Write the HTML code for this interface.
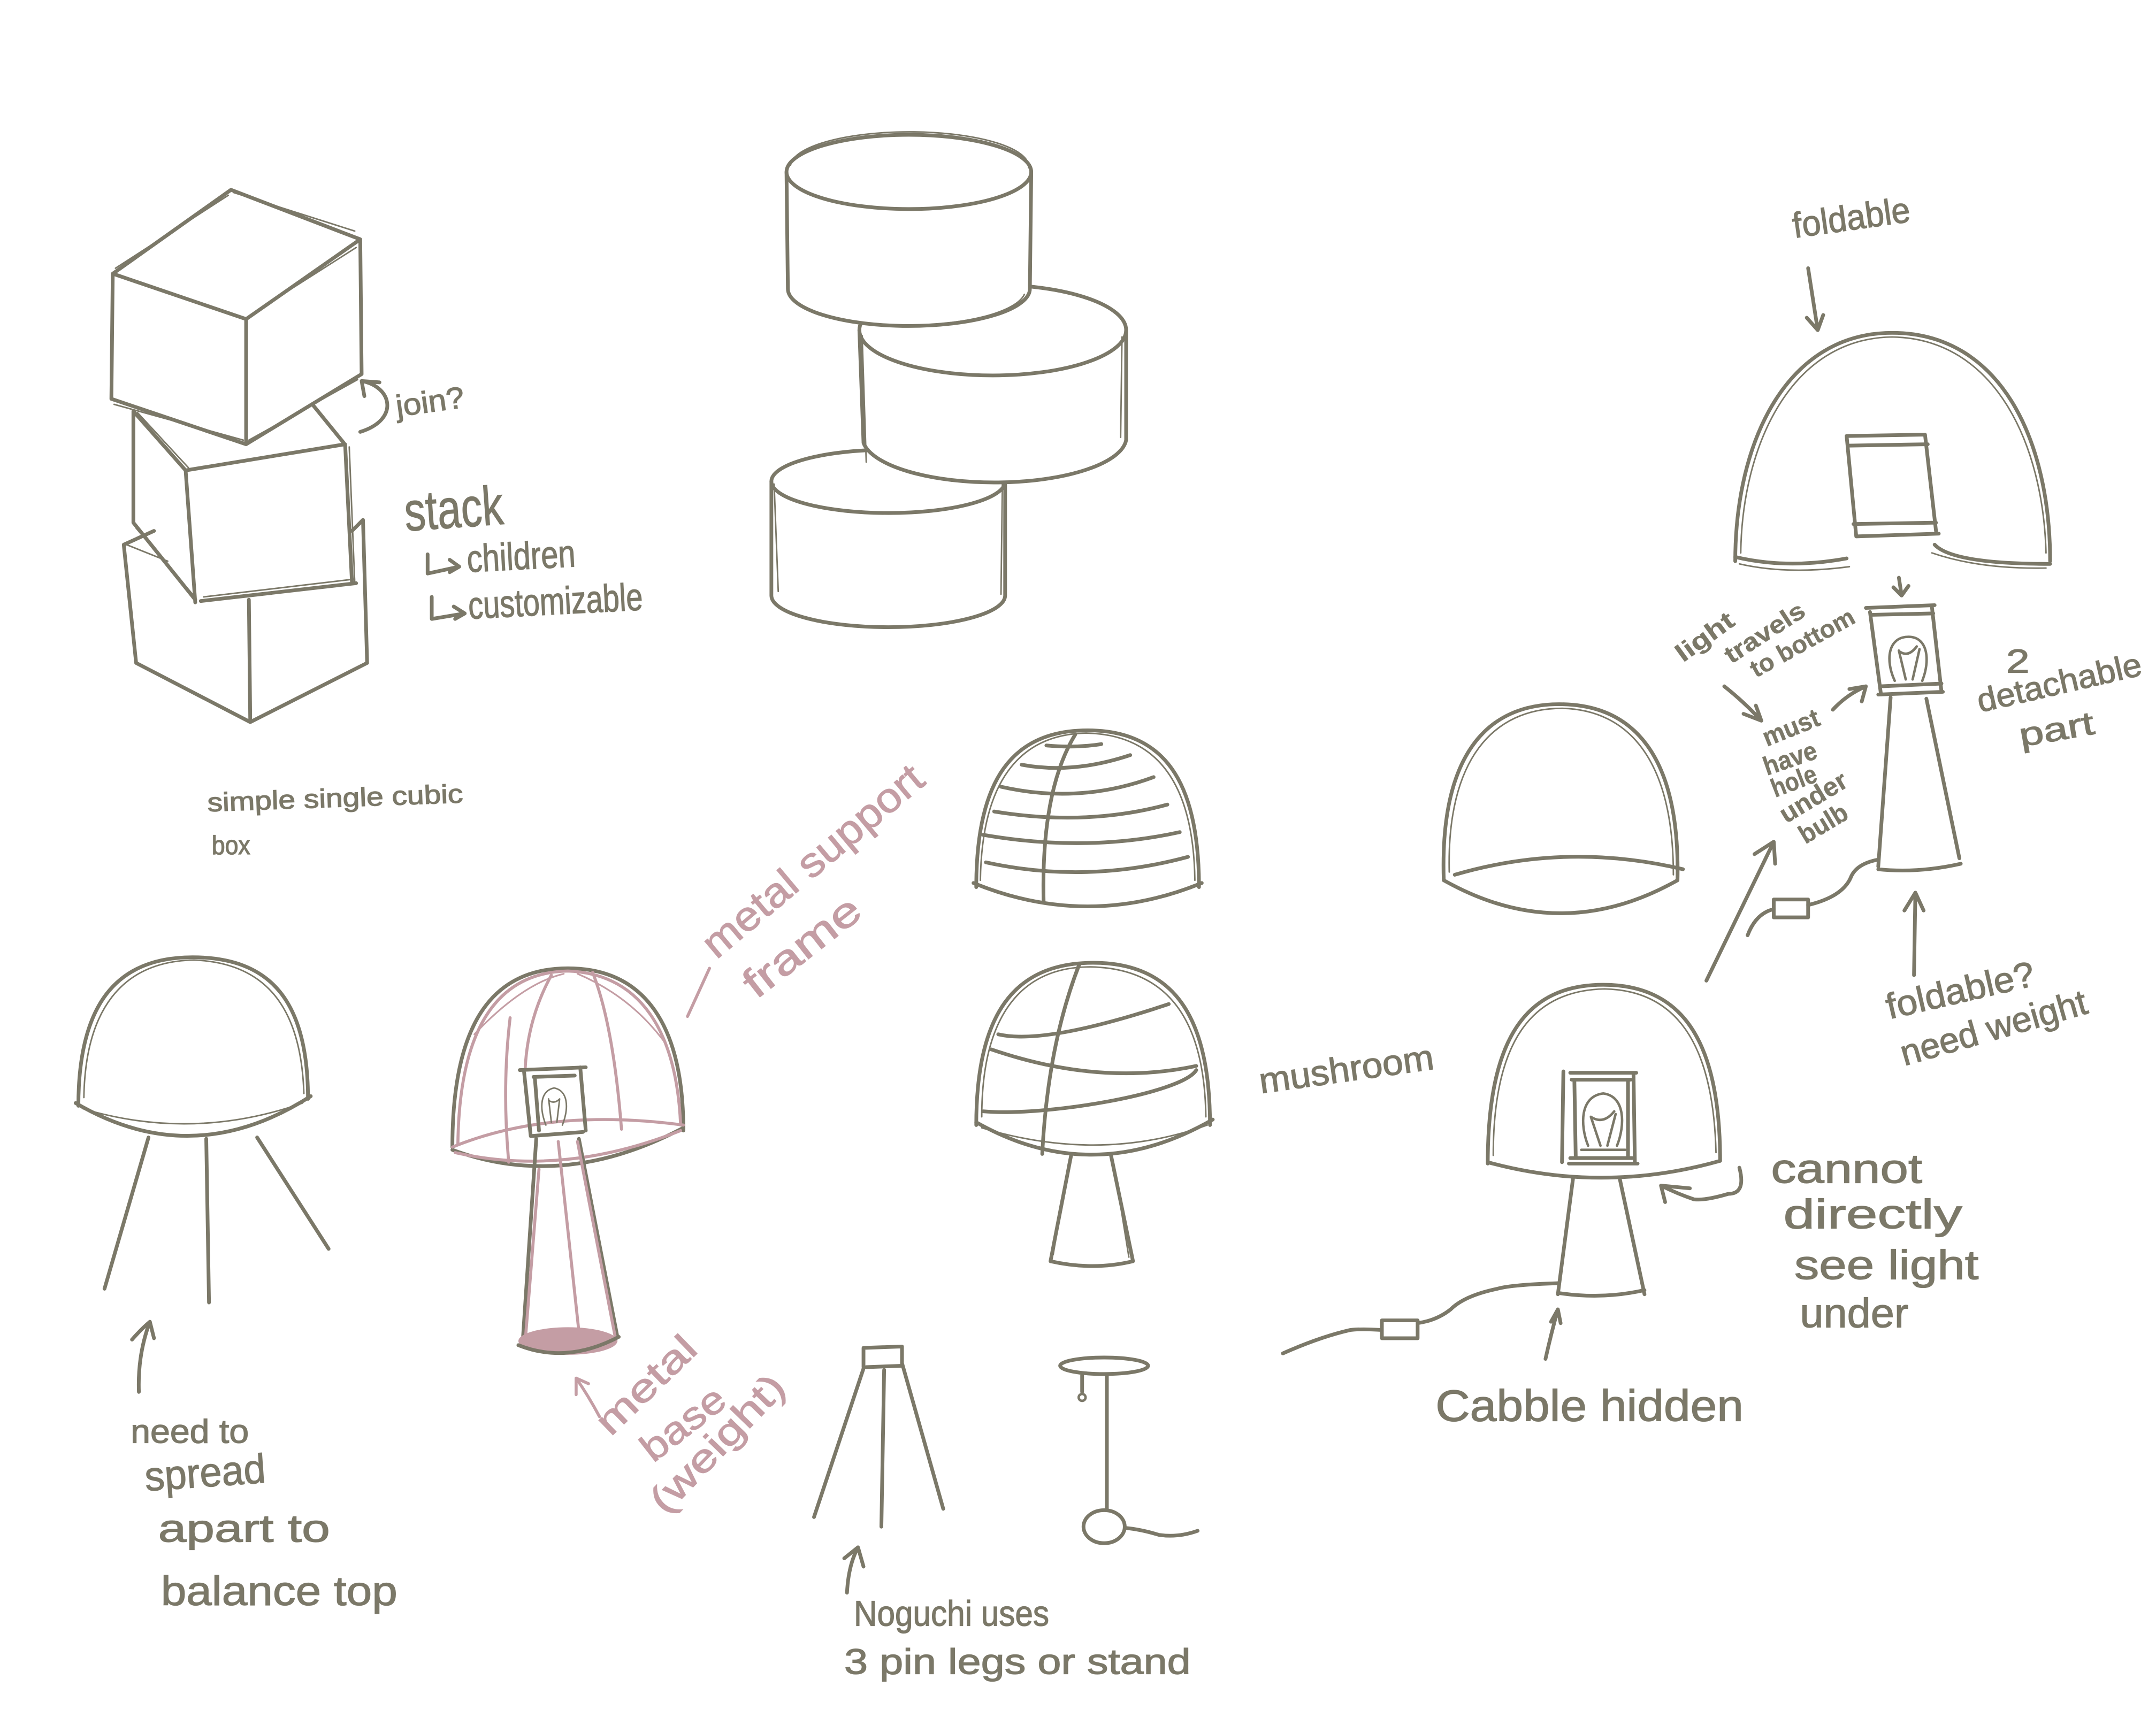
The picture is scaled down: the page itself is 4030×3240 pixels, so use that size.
<!DOCTYPE html>
<html><head><meta charset="utf-8">
<style>
html,body{margin:0;padding:0;background:#fff;}
svg{display:block;}
.s{fill:none;stroke:#7b7868;stroke-width:2.7;stroke-linecap:round;stroke-linejoin:round}
.w{fill:#fff;stroke:#7b7868;stroke-width:2.7;stroke-linecap:round;stroke-linejoin:round}
.t{fill:none;stroke:#7b7868;stroke-width:1.1;stroke-linecap:round}
.p{fill:none;stroke:#c49da4;stroke-width:2.2;stroke-linecap:round;stroke-linejoin:round}
.pt{fill:none;stroke:#c49da4;stroke-width:1.2;stroke-linecap:round}
text{font-family:"Liberation Sans","DejaVu Sans",sans-serif;fill:#7b7868;stroke:#7b7868;stroke-width:0.5}
text.pk{fill:#c49da4;stroke:#c49da4}
text.b{font-weight:bold;stroke-width:0.2}
</style></head><body>
<svg width="4030" height="3240" viewBox="0 0 1568 1260" preserveAspectRatio="none">
<rect x="0" y="0" width="1568" height="1260" fill="#fff"/>

<!-- ===== CUBES ===== -->
<path class="s" d="M90,396 L99,482 L182,525 L267,482 L264,378 M181,436 L182,525 M90,396 L112,386 M256,386 L264,378"/>
<path class="t" d="M92,396 L122,408"/>
<path class="s" d="M97,299 L97,380 M97,299 L135,342 M228,295 L250,322 M135,342 L251,323 L256,424 M135,342 L142,438 M97,380 L142,436 M146,437 L259,424"/>
<path class="t" d="M100,300 L137,340 M148,434 L258,421 M254,325 L258,424 M99,384 L140,432"/>
<path class="s" d="M82,199 L168,138 L262,174 L179,232 Z M82,199 L81,290 L179,323 L263,272 L262,174 M179,232 L179,323"/>
<path class="t" d="M84,195 L166,142 M170,140 L258,168 M182,229 L259,180 M83,294 L177,320 M181,320 L260,276"/>
<!-- join arrow -->
<path class="s" d="M263,277 C285,281 291,305 262,314 M265,288 L263,277 L276,278"/>

<!-- ===== CYLINDERS ===== -->
<path class="w" d="M561,350 L561,433 A85,23 0 0 0 731,433 L731,350 A85,23 0 0 0 561,350 Z"/>
<path class="s" d="M561,350 A85,23 0 0 0 731,350"/>
<path class="t" d="M563,352 L566,430 M729,352 L728,432"/>
<path class="w" d="M625,240 L628,322 A96,33 0 0 0 819,320 L819,240 A97,33 0 0 0 625,240 Z"/>
<path class="s" d="M625,240 A97,33 0 0 0 819,240"/>
<path class="t" d="M627,244 L630,336 M816,245 L815,318"/>
<path class="w" d="M572,125 L573,210 A88,27 0 0 0 749,210 L750,125 A89,27 0 0 0 572,125 Z"/>
<path class="s" d="M572,125 A89,27 0 0 0 750,125"/>
<path class="t" d="M575,120 A86,25 0 0 1 748,122 M574,212 A86,26 0 0 0 745,214"/>

<!-- ===== STRIPED DOME ===== -->
<path class="s" d="M710,645 C710,567 736,531 791,531 C846,531 872,567 872,645"/>
<path class="t" d="M713,640 C714,570 740,534 790,533 C842,534 868,570 869,640"/>
<path class="s" d="M708,642 Q791,676 874,642"/>
<path class="s" d="M761,542 Q782,544 801,541 M743,556 Q780,563 822,549 M728,572 Q785,585 839,565 M723,590 Q790,601 849,585 M715,607 Q790,620 858,605 M717,627 Q790,643 864,623"/>
<path class="s" d="M782,534 Q757,575 759,656"/>

<!-- ===== MUSHROOM (banded) ===== -->
<path class="s" d="M710,818 C710,738 737,700 795,700 C853,700 880,738 880,818"/>
<path class="t" d="M714,812 C714,742 740,703 793,703 C850,704 876,742 877,812"/>
<path class="s" d="M710,816 Q795,864 882,814"/>
<path class="t" d="M714,820 Q800,846 878,818"/>
<path class="s" d="M785,701 Q762,760 758,839"/>
<path class="s" d="M726,752 Q760,760 850,730 M721,763 Q800,790 870,775 M870,778 C860,795 760,812 715,808"/>
<path class="s" d="M779,840 L764,917 Q795,924 824,917 L808,840"/>
<path class="t" d="M777,846 L766,912 M810,846 L821,914"/>

<!-- ===== LEFT LEGGED DOME ===== -->
<path class="s" d="M57,804 C57,731 84,696 140,696 C197,696 224,728 224,799"/>
<path class="t" d="M61,798 C62,735 88,699 141,698 C193,700 219,732 221,795"/>
<path class="s" d="M55,802 Q140,852 226,797"/>
<path class="t" d="M60,806 Q140,830 220,802"/>
<path class="s" d="M108,827 L76,937 M150,828 L152,947 M187,827 L239,908"/>
<path class="s" d="M101,1012 Q100,985 109,961 M96,974 Q103,966 109,961 L112,973"/>

<!-- ===== PINK LAMP ===== -->
<path class="s" d="M329,834 C329,747 356,704 413,704 C470,704 497,747 497,822"/>
<path class="s" d="M329,836 Q410,866 497,820"/>
<path class="p" d="M333,832 C334,750 360,707 413,706 C466,708 492,750 495,818"/>
<path class="p" d="M329,834 Q400,805 497,818 M331,838 Q410,856 495,822"/>
<path class="p" d="M371,740 Q365,790 370,845 M431,707 Q446,745 452,821 M401,709 Q384,740 382,776"/>
<path class="pt" d="M345,752 Q380,715 410,708 M420,708 Q460,725 485,760"/>
<path class="s" d="M378,778 L426,776 M381,778 L386,826 M422,776 L426,822 M386,826 L424,823 M388,783 L418,782 M389,784 L392,822"/>
<path class="t" d="M397,818 C392,805 393,793 403,791 C413,793 414,805 409,818 M399,799 L401,816 M407,799 L405,816 M399,800 Q403,803 407,799"/>
<path class="s" d="M390,828 L380,978 M421,828 L449,972"/>
<path class="p" d="M392,850 L382,975 M406,830 L421,968 M420,830 L448,975"/>
<ellipse cx="413" cy="975" rx="36" ry="10" fill="#c49da4" stroke="none"/>
<path class="s" d="M377,978 Q412,992 450,972"/>
<path class="p" d="M500,739 L516,704"/>
<path class="p" d="M436,1030 Q428,1015 419,1002 M419,1014 L419,1002 L428,1006"/>

<!-- ===== NOGUCHI ===== -->
<path class="s" d="M628,980 L656,979 L656,993 L630,994 M628,980 L628,994"/>
<path class="s" d="M628,995 L592,1103 M643,996 L641,1110 M656,991 L686,1097"/>
<path class="s" d="M616,1158 Q617,1138 624,1125 M614,1133 L624,1125 L628,1139"/>
<ellipse class="s" cx="803" cy="993" rx="32" ry="6"/>
<path class="s" d="M805,1000 L805,1097 M787,1000 L787,1012"/>
<circle class="s" cx="787" cy="1016" r="2.5" style="stroke-width:1.8"/>
<ellipse class="s" cx="803" cy="1110" rx="15" ry="12"/>
<path class="s" d="M819,1111 Q830,1112 843,1116 Q857,1118 871,1113"/>

<!-- ===== RIGHT MIDDLE EMPTY DOME ===== -->
<path class="s" d="M1050,640 C1047,548 1082,512 1134,512 C1187,512 1222,548 1220,640"/>
<path class="t" d="M1054,634 C1052,552 1086,515 1136,515 C1184,516 1217,552 1217,636"/>
<path class="s" d="M1050,640 Q1135,688 1220,640"/>
<path class="s" d="M1058,636 Q1140,612 1224,632"/>

<!-- ===== LOWER BULB LAMP ===== -->
<path class="s" d="M1082,846 C1082,753 1111,716 1166,716 C1221,716 1251,753 1251,844"/>
<path class="t" d="M1086,840 C1086,757 1114,720 1167,719 C1218,720 1246,757 1248,838"/>
<path class="s" d="M1082,845 Q1166,868 1251,844"/>
<path class="s" d="M1137,779 L1136,845 M1142,780 L1190,780 M1188,780 L1189,846 M1143,785 L1186,785 M1145,786 L1146,842 M1184,786 L1184,842 M1142,842 L1187,842 M1141,846 L1191,846"/>
<path class="s" style="stroke-width:1.8" d="M1155,833 C1149,818 1149,797 1166,795 C1182,797 1182,818 1176,833 M1157,812 L1164,833 M1175,810 L1169,833 M1157,812 Q1166,818 1174,808 M1150,836 L1182,836"/>
<path class="s" d="M1144,857 L1133,941 M1178,857 L1196,941 M1133,940 Q1165,945 1196,938"/>
<path class="s" d="M1133,933 Q1100,934 1089,937 Q1065,942 1055,952 Q1045,960 1031,962"/>
<rect class="s" x="1005" y="960" width="26" height="13"/>
<path class="s" d="M1005,967 Q990,966 982,967 Q960,972 933,984"/>
<path class="s" d="M1124,988 Q1128,970 1133,952 M1128,961 L1133,952 L1135,962"/>
<path class="s" d="M1265,849 Q1270,868 1257,868 Q1240,873 1232,872 Q1220,868 1208,862 M1211,874 L1208,862 L1229,864"/>
<path class="s" d="M1241,713 L1290,612 M1276,621 L1290,612 L1291,628"/>

<!-- ===== RIGHT TOP LAMP ===== -->
<path class="s" d="M1315,195 L1322,240 M1314,231 L1322,240 L1326,229"/>
<path class="s" d="M1262,408 C1262,320 1300,242 1376,242 C1455,242 1491,320 1491,408"/>
<path class="t" d="M1266,402 C1267,323 1303,246 1376,245 C1451,246 1486,323 1488,402"/>
<path class="s" d="M1262,405 Q1300,414 1343,406 M1407,396 Q1420,410 1491,410"/>
<path class="t" d="M1265,410 Q1300,418 1345,412 M1405,402 Q1440,414 1488,413"/>
<path class="s" d="M1343,317 L1400,316 M1343,317 L1350,390 M1400,316 L1408,386 M1345,324 L1402,323 M1348,381 L1408,380 M1350,390 L1410,388"/>
<path class="s" d="M1381,420 L1383,433 M1377,427 L1383,433 L1388,426"/>
<path class="s" d="M1357,442 L1407,440 M1360,445 L1368,505 M1405,441 L1412,503 M1366,505 L1413,503 M1362,447 L1406,446 M1368,499 L1412,497"/>
<path class="s" style="stroke-width:1.8" d="M1378,495 C1371,480 1373,463 1388,463 C1402,463 1404,480 1398,495 M1381,473 L1386,494 M1396,472 L1391,494 M1382,474 Q1388,478 1394,470"/>
<path class="s" d="M1375,507 L1366,630 M1401,508 L1425,624 M1366,632 Q1395,635 1426,628"/>
<path class="s" d="M1366,625 Q1350,628 1346,638 Q1340,652 1315,658"/>
<rect class="s" x="1290" y="654" width="25" height="13"/>
<path class="s" d="M1290,661 Q1277,664 1271,680"/>
<path class="s" d="M1392,709 L1393,649 M1385,662 L1393,649 L1399,662"/>
<path class="s" d="M1254,499 Q1268,510 1281,524 M1268,519 L1281,524 L1277,513"/>
<path class="s" d="M1333,516 Q1343,505 1357,499 M1345,501 L1357,499 L1354,510"/>

<!-- ===== TEXT ===== -->
<text transform="translate(289,303) rotate(-8)" font-size="22" textLength="50" lengthAdjust="spacingAndGlyphs">join?</text>
<text transform="translate(295,386) rotate(-4)" font-size="40" textLength="72" lengthAdjust="spacingAndGlyphs">stack</text>
<path class="s" d="M311,403 L311,417 L334,412 M327,407 L334,412 L327,416"/>
<text transform="translate(340,416) rotate(-3)" font-size="28" textLength="79" lengthAdjust="spacingAndGlyphs">children</text>
<path class="s" d="M314,434 L314,450 L338,446 M330,441 L338,446 L331,450"/>
<text transform="translate(341,450) rotate(-3)" font-size="28" textLength="127" lengthAdjust="spacingAndGlyphs">customizable</text>
<text transform="translate(151,590) rotate(-2)" font-size="19" textLength="186" lengthAdjust="spacingAndGlyphs">simple  single  cubic</text>
<text x="154" y="621" font-size="19" textLength="28" lengthAdjust="spacingAndGlyphs">box</text>

<text class="pk" transform="translate(521,698) rotate(-40)" font-size="30" textLength="200" lengthAdjust="spacingAndGlyphs">metal support</text>
<text class="pk" transform="translate(550,727) rotate(-38)" font-size="30" textLength="100" lengthAdjust="spacingAndGlyphs">frame</text>
<text class="pk" transform="translate(444,1045) rotate(-44)" font-size="28" textLength="90" lengthAdjust="spacingAndGlyphs">metal</text>
<text class="pk" transform="translate(475,1064) rotate(-38)" font-size="28" textLength="70" lengthAdjust="spacingAndGlyphs">base</text>
<text class="pk" transform="translate(484,1102) rotate(-46)" font-size="28" textLength="128" lengthAdjust="spacingAndGlyphs">(weight)</text>

<text transform="translate(917,795) rotate(-8)" font-size="26" textLength="128" lengthAdjust="spacingAndGlyphs">mushroom</text>

<text x="95" y="1049" font-size="24" textLength="86" lengthAdjust="spacingAndGlyphs">need  to</text>
<text transform="translate(106,1084) rotate(-4)" font-size="30" textLength="88" lengthAdjust="spacingAndGlyphs">spread</text>
<text x="115" y="1121" font-size="28" textLength="125" lengthAdjust="spacingAndGlyphs">apart  to</text>
<text x="117" y="1167" font-size="30" textLength="172" lengthAdjust="spacingAndGlyphs">balance  top</text>

<text x="621" y="1182" font-size="26" textLength="142" lengthAdjust="spacingAndGlyphs">Noguchi  uses</text>
<text x="614" y="1217" font-size="26" textLength="252" lengthAdjust="spacingAndGlyphs">3 pin  legs  or  stand</text>

<text x="1044" y="1033" font-size="32" textLength="224" lengthAdjust="spacingAndGlyphs">Cabble  hidden</text>
<text x="1288" y="860" font-size="30" textLength="110" lengthAdjust="spacingAndGlyphs">cannot</text>
<text x="1297" y="893" font-size="30" textLength="130" lengthAdjust="spacingAndGlyphs">directly</text>
<text x="1305" y="930" font-size="30" textLength="134" lengthAdjust="spacingAndGlyphs">see  light</text>
<text x="1309" y="965" font-size="30" textLength="79" lengthAdjust="spacingAndGlyphs">under</text>

<text transform="translate(1305,173) rotate(-8)" font-size="26" textLength="86" lengthAdjust="spacingAndGlyphs">foldable</text>
<text class="b" transform="translate(1224,482) rotate(-36)" font-size="18" textLength="48" lengthAdjust="spacingAndGlyphs">light</text>
<text class="b" transform="translate(1259,483) rotate(-33)" font-size="18" textLength="66" lengthAdjust="spacingAndGlyphs">travels</text>
<text class="b" transform="translate(1277,493) rotate(-29)" font-size="18" textLength="84" lengthAdjust="spacingAndGlyphs">to bottom</text>
<text class="b" transform="translate(1285,543) rotate(-22)" font-size="19" textLength="43" lengthAdjust="spacingAndGlyphs">must</text>
<text class="b" transform="translate(1285,564) rotate(-19)" font-size="19" textLength="40" lengthAdjust="spacingAndGlyphs">have</text>
<text class="b" transform="translate(1291,580) rotate(-21)" font-size="19" textLength="34" lengthAdjust="spacingAndGlyphs">hole</text>
<text class="b" transform="translate(1299,599) rotate(-31)" font-size="19" textLength="54" lengthAdjust="spacingAndGlyphs">under</text>
<text class="b" transform="translate(1313,614) rotate(-31)" font-size="19" textLength="38" lengthAdjust="spacingAndGlyphs">bulb</text>
<text x="1459" y="489" font-size="24" textLength="17" lengthAdjust="spacingAndGlyphs">2</text>
<text transform="translate(1440,518) rotate(-13)" font-size="24" textLength="122" lengthAdjust="spacingAndGlyphs">detachable</text>
<text transform="translate(1470,543) rotate(-10)" font-size="24" textLength="55" lengthAdjust="spacingAndGlyphs">part</text>
<text transform="translate(1374,741) rotate(-13)" font-size="26" textLength="110" lengthAdjust="spacingAndGlyphs">foldable?</text>
<text transform="translate(1385,775) rotate(-16)" font-size="26" textLength="140" lengthAdjust="spacingAndGlyphs">need  weight</text>
</svg>
</body></html>
